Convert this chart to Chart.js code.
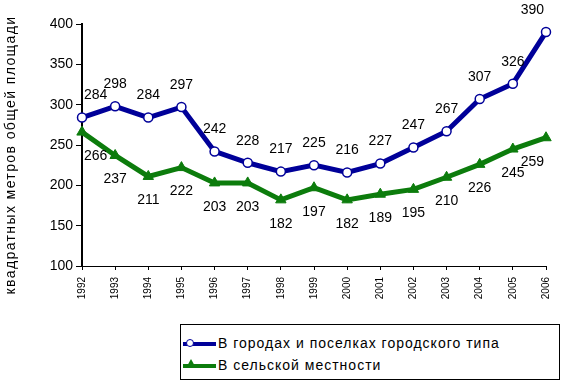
<!DOCTYPE html>
<html><head><meta charset="utf-8">
<script src="https://cdn.jsdelivr.net/npm/chart.js@4.4.1/dist/chart.umd.min.js"></script>
<style>
html,body{margin:0;padding:0;background:#fff;}
#wrap{position:relative;width:569px;height:392px;}
#legend{position:absolute;left:180px;top:324px;width:380px;height:56px;border:1px solid #000;box-sizing:border-box;font-family:"Liberation Sans",Arial,sans-serif;font-size:14px;letter-spacing:1px;color:#000;background:#fff;}
.row{position:absolute;left:0;height:20px;}
.ln{position:absolute;left:2px;top:8px;width:33px;height:4px;}
.txt{position:absolute;left:37px;top:1px;white-space:nowrap;}
</style></head>
<body><div id="wrap"><canvas id="c" width="569" height="392"></canvas>
<div id="legend">
 <div class="row" style="top:9px"><div class="ln" style="background:#000099"></div><div style="position:absolute;left:5px;top:5px;width:8px;height:8px;border:1.5px solid #000099;border-radius:50%;background:#fff;box-sizing:border-box"></div><div class="txt">В городах и поселках городского типа</div></div>
 <div class="row" style="top:31px"><div class="ln" style="background:#0c7c0c"></div><div style="position:absolute;left:5px;top:3px;width:0;height:0;border-left:5px solid transparent;border-right:5px solid transparent;border-bottom:9px solid #0c7c0c"></div><div class="txt">В сельской местности</div></div>
</div></div>
<script>
const years = ["1992","1993","1994","1995","1996","1997","1998","1999","2000","2001","2002","2003","2004","2005","2006"];
const urban = [284,298,284,297,242,228,217,225,216,227,247,267,307,326,390];
const rural = [266,237,211,222,203,203,182,197,182,189,195,210,226,245,259];
const yTicks = [100,150,200,250,300,350,400];
const yTitle = "квадратных метров общей площади";
const seriesNames = ["В городах и поселках городского типа","В сельской местности"];

const FONT = '"Liberation Sans", Arial, sans-serif';

const labelPlugin = {
  id:'vals',
  afterDatasetsDraw(chart){
    const ctx = chart.ctx;
    const area = chart.chartArea;
    ctx.save();
    ctx.font = '14px ' + FONT;
    ctx.fillStyle = '#000';
    ctx.textAlign = 'center';
    ctx.textBaseline = 'middle';
    chart.data.datasets.forEach((ds, i) => {
      const meta = chart.getDatasetMeta(i);
      meta.data.forEach((pt, j) => {
        const txt = String(ds.data[j]);
        const w = ctx.measureText(txt).width;
        let x = pt.x;
        if (x - w/2 < area.left + 2) x = area.left + 2 + w/2;
        if (x + w/2 > area.right - 2) x = area.right - 2 - w/2;
        const dy = i === 0 ? -22 : 24;
        ctx.fillText(txt, x, pt.y + dy);
      });
    });
    ctx.restore();
    // y title
    ctx.save();
    ctx.translate(11, 155);
    ctx.rotate(-Math.PI/2);
    ctx.font = '14px ' + FONT;
    try { ctx.letterSpacing = '1.4px'; } catch(e) {}
    ctx.fillStyle = '#000';
    ctx.textAlign = 'center';
    ctx.textBaseline = 'middle';
    ctx.fillText(yTitle, 0, 0);
    ctx.restore();
  }
};

new Chart(document.getElementById('c'), {
  type:'line',
  data:{
    labels: years,
    datasets:[
      {label:seriesNames[0], data:urban, borderColor:'#000099', borderWidth:5, pointStyle:'circle', pointRadius:4.5, pointBackgroundColor:'#fff', pointBorderColor:'#000099', pointBorderWidth:1.5, tension:0},
      {label:seriesNames[1], data:rural, borderColor:'#0c7c0c', borderWidth:5, pointStyle:'triangle', pointRadius:6, pointBackgroundColor:'#0c7c0c', pointBorderColor:'#0c7c0c', pointBorderWidth:1, tension:0}
    ]
  },
  options:{
    responsive:false, animation:false, devicePixelRatio:1,
    layout:{padding:{top:24,right:23,left:0,bottom:0}},
    plugins:{legend:{display:false}, tooltip:{enabled:false}},
    scales:{
      x:{
        offset:false,
        grid:{drawOnChartArea:false, drawTicks:true, tickLength:4, color:'#000'},
        border:{display:true, color:'#000', width:1},
        ticks:{maxRotation:90, minRotation:90, autoSkip:false, color:'#000', font:{family:FONT, size:10}, padding:7},
        afterFit(s){ s.height = 126; }
      },
      y:{
        min:100, max:400,
        afterBuildTicks(s){ s.ticks = yTicks.map(v=>({value:v})); },
        grid:{drawOnChartArea:false, drawTicks:true, tickLength:6, color:'#000'},
        border:{display:true, color:'#000', width:2},
        ticks:{color:'#000', font:{family:FONT, size:14}, padding:3},
        afterFit(s){ s.width = 82; }
      }
    }
  },
  plugins:[labelPlugin]
});
</script></body></html>
